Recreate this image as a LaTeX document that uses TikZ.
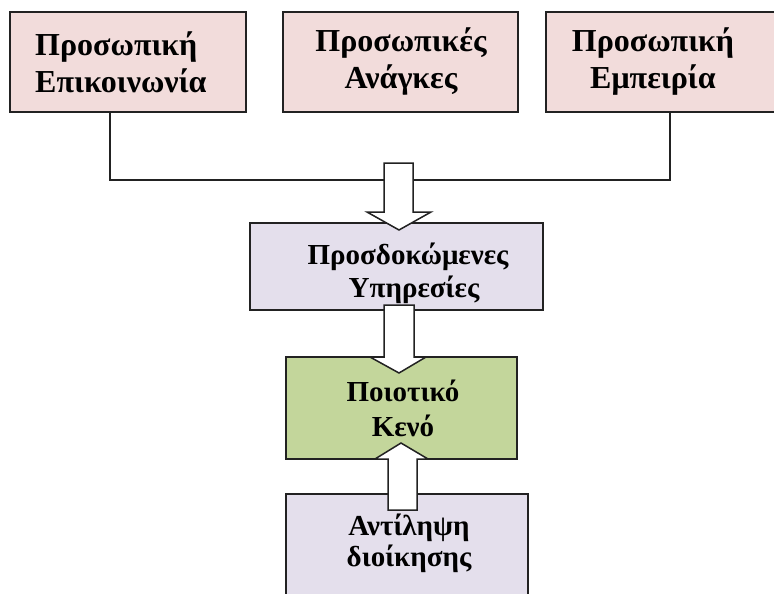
\documentclass[tikz,border=0pt]{standalone}
\usepackage{fontspec}
\setmainfont{Liberation Serif}
\definecolor{pinkc}{HTML}{F2DCDB}
\definecolor{lavc}{HTML}{E4DFEC}
\definecolor{greenc}{HTML}{C3D69B}
\definecolor{edgec}{HTML}{222222}
\begin{document}
\begin{tikzpicture}[x=1pt,y=-1pt,
  box/.style={draw=edgec, line width=1.7pt, inner sep=0pt},
  toptxt/.style={align=center, inner sep=0pt, font=\fontsize{32}{37}\selectfont\bfseries},
  lowtxt/.style={align=center, inner sep=0pt, font=\fontsize{29}{33}\selectfont\bfseries},
  conn/.style={draw=edgec, line width=1.5pt},
  blockarrow/.style={draw=edgec, fill=white, line width=1.5pt, line join=miter}]
\useasboundingbox (0,0) rectangle (774,594);
\fill[white] (0,0) rectangle (774,594);
\clip (0,0) rectangle (774,594);
% top boxes
\node[box, fill=pinkc, minimum width=236pt, minimum height=100pt] (b1) at (128,62) {};
\node[box, fill=pinkc, minimum width=235pt, minimum height=100pt] (b2) at (400.5,62) {};
\node[box, fill=pinkc, minimum width=240pt, minimum height=100pt] (b3) at (666,62) {};
\node[toptxt, align=left, anchor=west] (t1) at (35,62) {Προσωπική\\Επικοινωνία};
\node[toptxt] (t2) at (401,62) {Προσωπικές\\Ανάγκες};
\node[toptxt] (t3) at (653,62) {Προσωπική\\Εμπειρία};
% middle boxes
\node[box, fill=lavc, minimum width=293pt, minimum height=87pt] (b4) at (396.5,266.5) {};
\node[lowtxt] (t4) at (408,273) {Προσδοκώμενες\\\hspace*{12pt}Υπηρεσίες};
\node[box, fill=greenc, minimum width=231pt, minimum height=102pt] (b5) at (401.5,408) {};
\node[lowtxt, font=\fontsize{29}{35}\selectfont\bfseries] (t5) at (403,408) {Ποιοτικό\\Κενό};
\node[box, fill=lavc, minimum width=242pt, minimum height=106pt] (b6) at (407,547) {};
\node[lowtxt, font=\fontsize{29}{31}\selectfont\bfseries] (t6) at (409,543) {Αντίληψη\\διοίκησης};
% connector
\coordinate (j) at (399,180);
\draw[conn] ([xshift=-18pt]b1.south) |- (j) -| ([xshift=4pt]b3.south);
% block arrows
\draw[blockarrow] (384,163) -- (413,163) -- (413,212) -- (431,212) -- (399,230) -- (367,212) -- (384,212) -- cycle;
\draw[blockarrow] (384,305) -- (414,305) -- (414,357) -- (426,357) -- (399,373) -- (370,357) -- (384,357) -- cycle;
\draw[blockarrow] (388,510) -- (417,510) -- (417,459) -- (428,459) -- (401,443) -- (375,459) -- (388,459) -- cycle;
\end{tikzpicture}
\end{document}
